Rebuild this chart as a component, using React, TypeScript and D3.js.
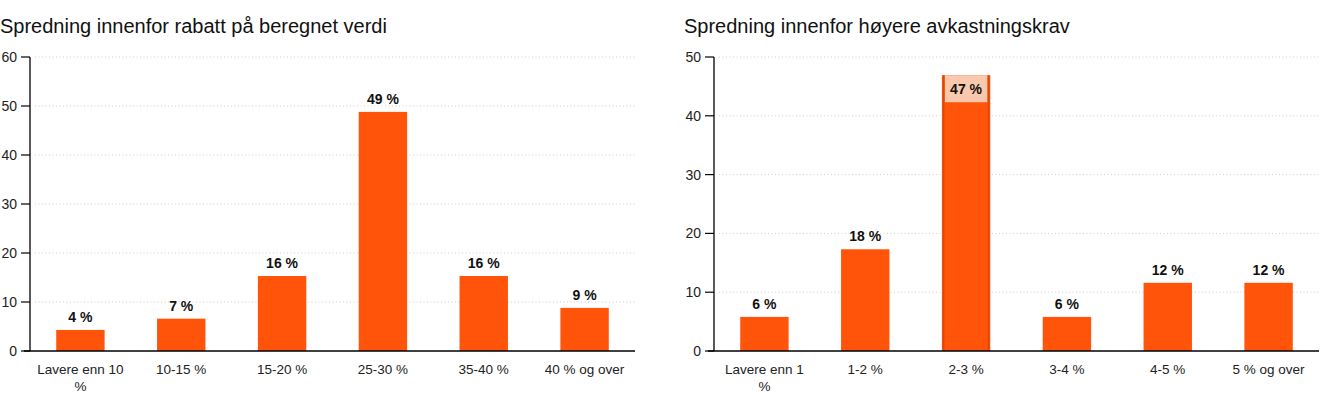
import React from "react";
import * as d3 from "d3";

const leftTitle = "Spredning innenfor rabatt på beregnet verdi";
const leftCategories = ["Lavere enn 10 %", "10-15 %", "15-20 %", "25-30 %", "35-40 %", "40 % og over"];
const leftValues = [4.3, 6.6, 15.3, 48.8, 15.3, 8.8];
const leftLabels = ["4 %", "7 %", "16 %", "49 %", "16 %", "9 %"];
const leftTicks = [0, 10, 20, 30, 40, 50, 60];

const rightTitle = "Spredning innenfor høyere avkastningskrav";
const rightCategories = ["Lavere enn 1 %", "1-2 %", "2-3 %", "3-4 %", "4-5 %", "5 % og over"];
const rightValues = [5.8, 17.3, 46.9, 5.8, 11.6, 11.6];
const rightLabels = ["6 %", "18 %", "47 %", "6 %", "12 %", "12 %"];
const rightTicks = [0, 10, 20, 30, 40, 50];
const rightHighlight = 2;

const BAR = "#ff540a";
const FONT = "'Liberation Sans', Arial, Helvetica, sans-serif";

function wrapLabel(s: string, maxChars: number): string[] {
  if (s.length <= maxChars) return [s];
  const words = s.split(" ");
  const lines: string[] = [];
  let cur = "";
  for (const w of words) {
    const t = cur ? cur + " " + w : w;
    if (t.length > maxChars && cur) {
      lines.push(cur);
      cur = w;
    } else cur = t;
  }
  if (cur) lines.push(cur);
  return lines;
}

type PanelProps = {
  x0: number;
  x1: number;
  title: string;
  categories: string[];
  values: number[];
  labels: string[];
  ticks: number[];
  highlight?: number;
};

function Panel({ x0, x1, title, categories, values, labels, ticks, highlight }: PanelProps) {
  const yTop = 57;
  const yBottom = 351;
  const maxT = ticks[ticks.length - 1];
  const y = d3.scaleLinear().domain([0, maxT]).range([yBottom, yTop]);
  const x = d3.scaleBand<string>().domain(categories).range([x0, x1]).paddingInner(0.52).paddingOuter(0.26);
  const bw = x.bandwidth();
  return (
    <g>
      <text x={x0 - 30} y={33} fontSize={20} fill="#111" fontFamily={FONT}>
        {title}
      </text>
      {ticks.map((t) => (
        <g key={t}>
          {t > 0 && (
            <line x1={x0 + 5} x2={x1} y1={y(t)} y2={y(t)} stroke="#cfcfcf" strokeDasharray="1,2.5" />
          )}
          <line x1={x0 - 9} x2={x0} y1={y(t)} y2={y(t)} stroke="#000" strokeWidth={1.2} />
          <text x={x0 - 13} y={y(t) + 5} fontSize={14} textAnchor="end" fill="#222" fontFamily={FONT}>
            {t}
          </text>
        </g>
      ))}
      <line x1={x0} x2={x0} y1={yTop} y2={yBottom} stroke="#000" strokeWidth={1.3} />
      {categories.map((c, i) => {
        const bx = x(c)!;
        const top = y(values[i]);
        const cx = bx + bw / 2;
        const hl = highlight === i;
        return (
          <g key={c}>
            <rect x={bx} y={top} width={bw} height={yBottom - top} fill={BAR} />
            {hl ? (
              <g>
                <rect x={bx + 1} y={top} width={1.5} height={yBottom - top} fill="#d9480a" />
                <rect x={bx + bw - 2.5} y={top} width={1.5} height={yBottom - top} fill="#d9480a" />
                <rect x={bx + 3} y={top} width={bw - 6} height={27} fill="#fac9ad" />
                <text x={cx} y={top + 19} fontSize={14} fontWeight="bold" textAnchor="middle" fill="#111" fontFamily={FONT}>
                  {labels[i]}
                </text>
              </g>
            ) : (
              <text x={cx} y={top - 8} fontSize={14} fontWeight="bold" textAnchor="middle" fill="#111" fontFamily={FONT}>
                {labels[i]}
              </text>
            )}
            {wrapLabel(c, 13).map((ln, k) => (
              <text key={k} x={cx} y={374 + k * 17} fontSize={13.5} textAnchor="middle" fill="#222" fontFamily={FONT}>
                {ln}
              </text>
            ))}
          </g>
        );
      })}
      <line x1={x0 - 6} x2={x1} y1={yBottom} y2={yBottom} stroke="#000" strokeWidth={1.3} />
    </g>
  );
}

export default function App() {
  return (
    <svg
      width={1320}
      height={396}
      style={{ position: "absolute", left: 0, top: 0, background: "#fff" }}
    >
      <rect width={1320} height={396} fill="#fff" />
      <Panel
        x0={30}
        x1={635}
        title={leftTitle}
        categories={leftCategories}
        values={leftValues}
        labels={leftLabels}
        ticks={leftTicks}
      />
      <Panel
        x0={714}
        x1={1319}
        title={rightTitle}
        categories={rightCategories}
        values={rightValues}
        labels={rightLabels}
        ticks={rightTicks}
        highlight={rightHighlight}
      />
    </svg>
  );
}
